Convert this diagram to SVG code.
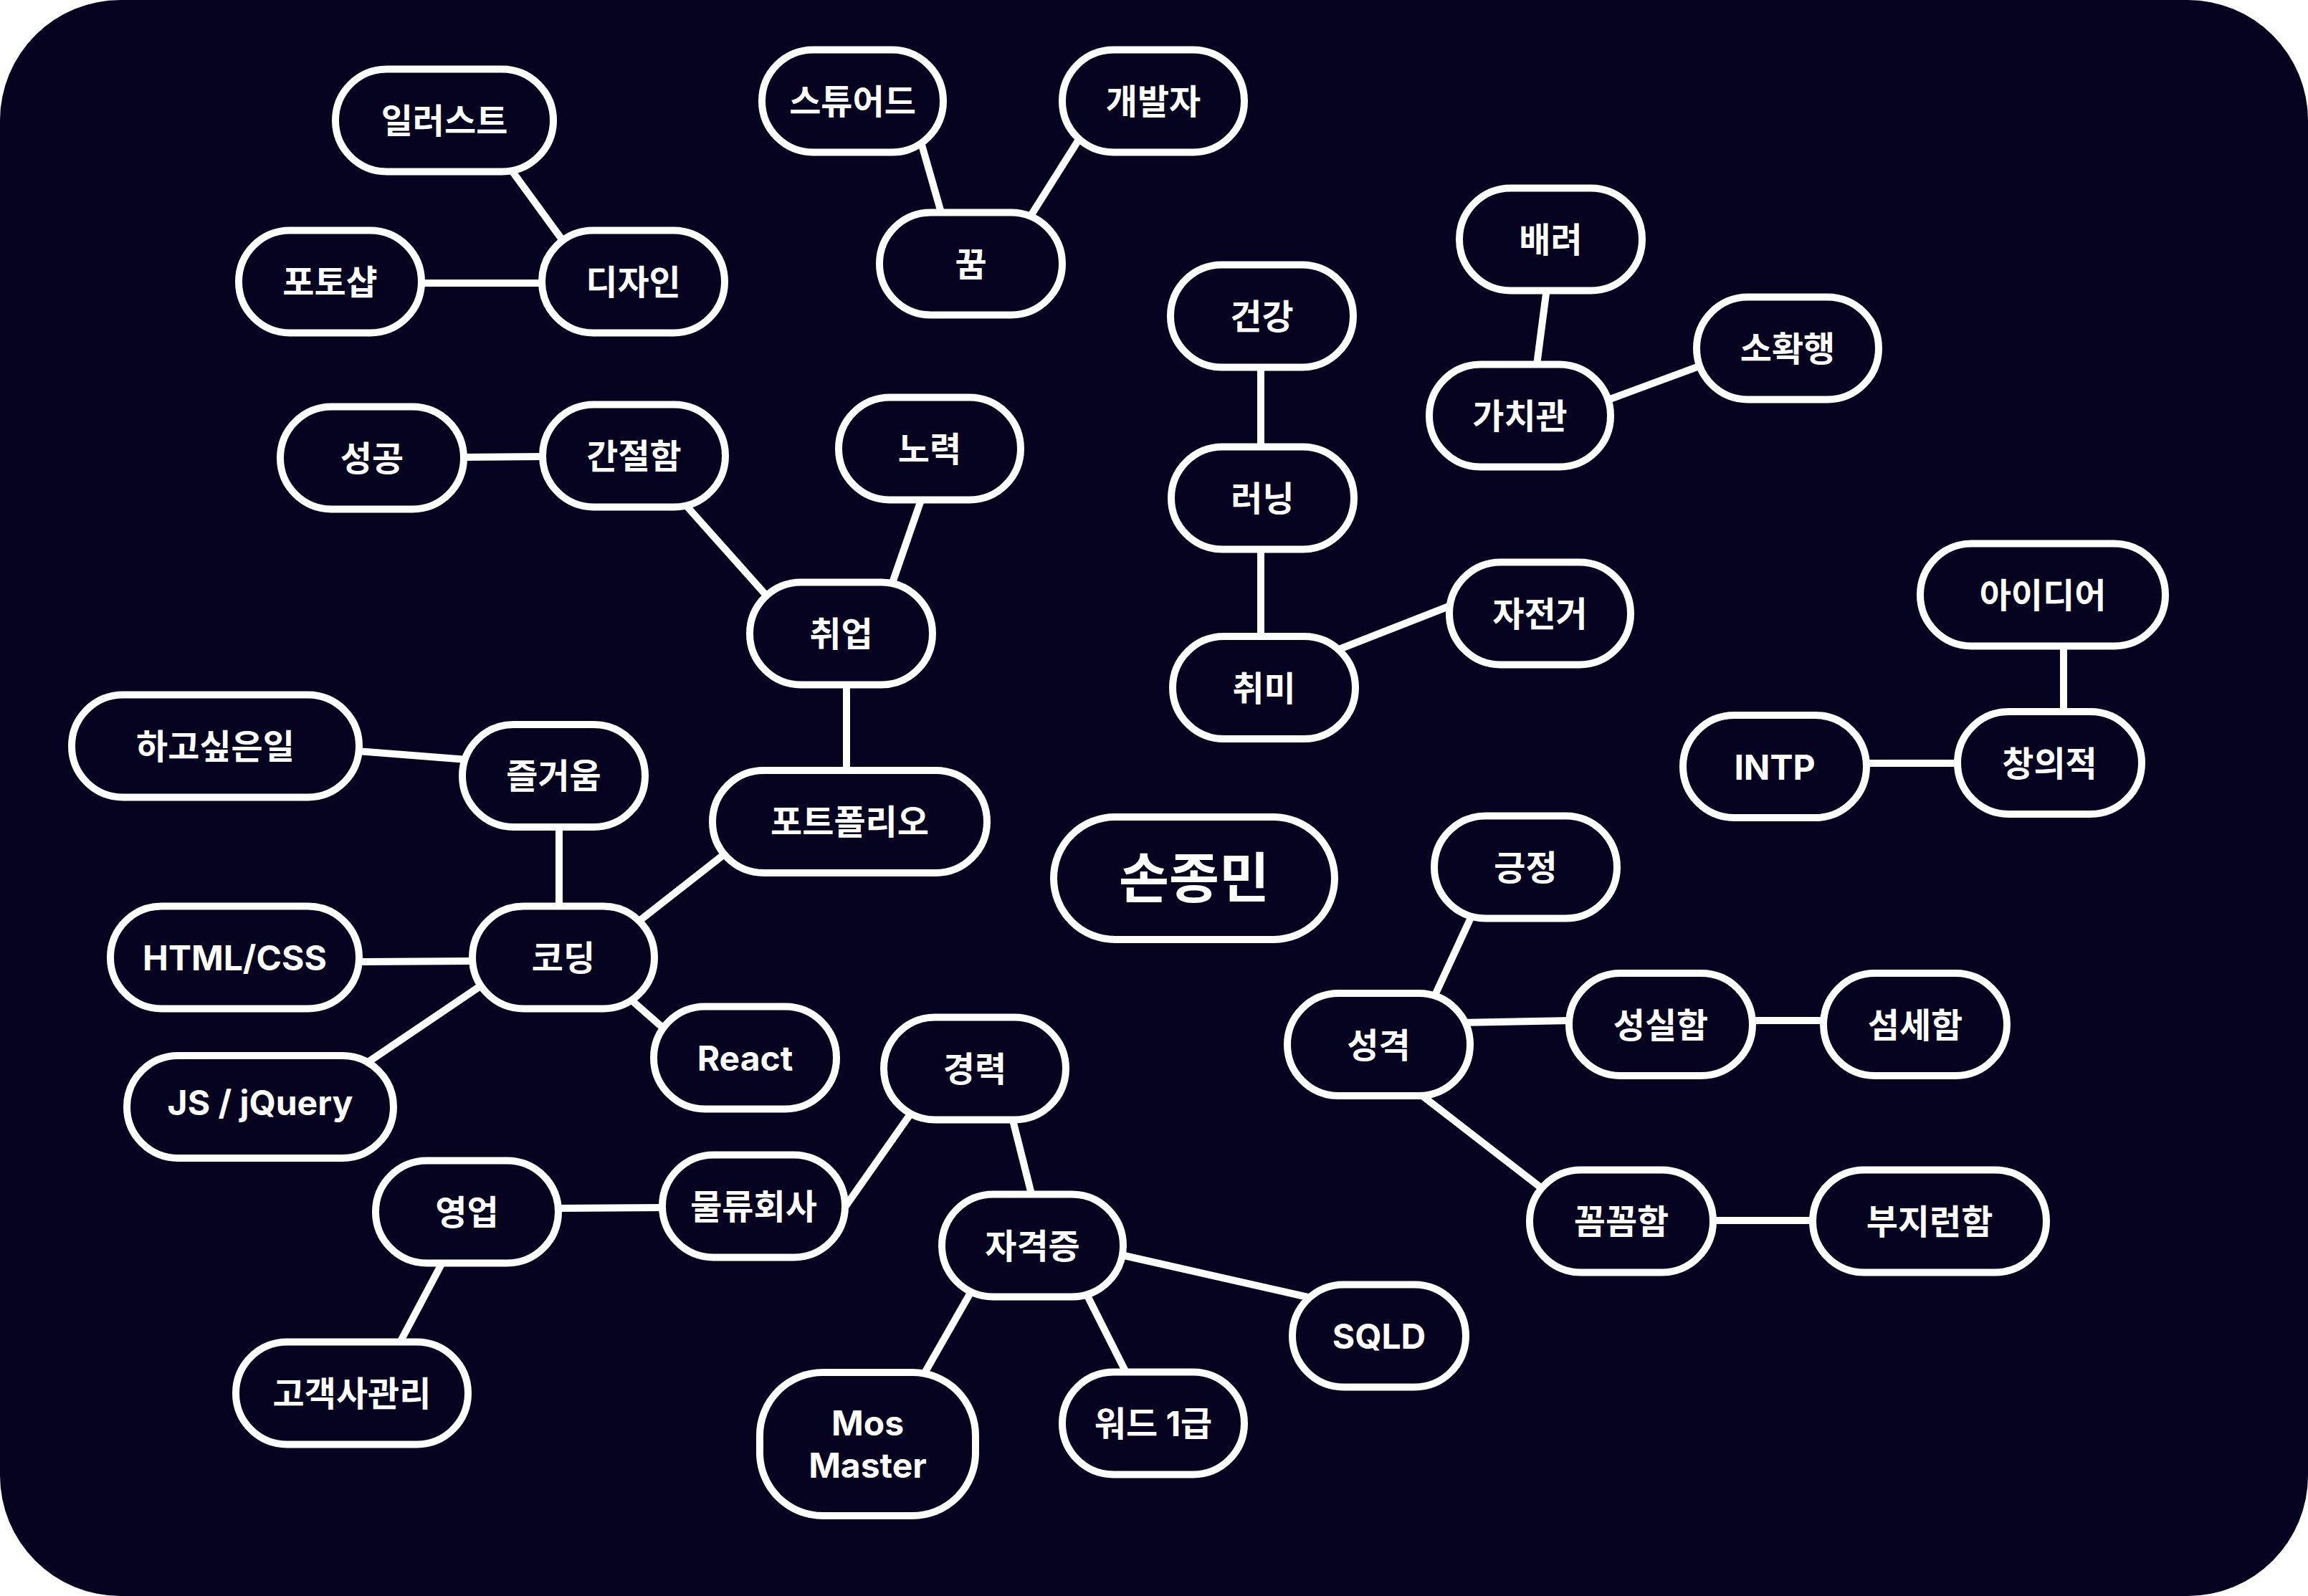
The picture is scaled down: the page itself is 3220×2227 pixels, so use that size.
<svg xmlns="http://www.w3.org/2000/svg" width="3220" height="2227" viewBox="0 0 3220 2227">
<style>
.n{fill:#050320;stroke:#fff;stroke-width:10}
.c line{stroke:#fff;stroke-width:10;stroke-linecap:butt}
.t{font-family:Inter,"Noto Sans CJK KR",sans-serif;font-size:48px;font-weight:700;fill:#fff;text-anchor:middle}
.big{font-size:76px}
</style>
<rect x="0" y="0" width="3220" height="2227" fill="#ffffff"/>
<rect x="0" y="0" width="3220" height="2227" rx="168" ry="168" fill="#050320"/>
<g id="connectors" class="c">
<line x1="711" y1="234" x2="789" y2="341"/>
<line x1="585" y1="395" x2="759" y2="395"/>
<line x1="644" y1="638" x2="760" y2="637"/>
<line x1="956" y1="704" x2="1071" y2="833"/>
<line x1="1287" y1="692" x2="1243" y2="819"/>
<line x1="1284" y1="195" x2="1314" y2="300"/>
<line x1="1508" y1="190" x2="1435" y2="306"/>
<line x1="1759" y1="510" x2="1759" y2="628"/>
<line x1="1759" y1="763" x2="1759" y2="891"/>
<line x1="1863" y1="908" x2="2024" y2="845"/>
<line x1="2158" y1="402" x2="2143" y2="517"/>
<line x1="2238" y1="560" x2="2376" y2="509"/>
<line x1="498" y1="1048" x2="652" y2="1060"/>
<line x1="780" y1="1151" x2="780" y2="1268"/>
<line x1="498" y1="1342" x2="660" y2="1341"/>
<line x1="888" y1="1288" x2="1013" y2="1190"/>
<line x1="878" y1="1393" x2="928" y2="1437"/>
<line x1="673" y1="1374" x2="512" y2="1483"/>
<line x1="1181" y1="952" x2="1181" y2="1078"/>
<line x1="2055" y1="1274" x2="2000" y2="1393"/>
<line x1="2037" y1="1427" x2="2192" y2="1424"/>
<line x1="2442" y1="1424" x2="2547" y2="1424"/>
<line x1="1983" y1="1528" x2="2156" y2="1662"/>
<line x1="2387" y1="1703" x2="2532" y2="1703"/>
<line x1="2879" y1="898" x2="2879" y2="996"/>
<line x1="2601" y1="1065" x2="2734" y2="1065"/>
<line x1="776" y1="1686" x2="927" y2="1685"/>
<line x1="618" y1="1760" x2="557" y2="1875"/>
<line x1="1274" y1="1549" x2="1177" y2="1687"/>
<line x1="1412" y1="1559" x2="1440" y2="1670"/>
<line x1="1564" y1="1751" x2="1829" y2="1811"/>
<line x1="1355" y1="1802" x2="1287" y2="1921"/>
<line x1="1515" y1="1804" x2="1572" y2="1917"/>
</g>
<g id="n-illust"><rect class="n" x="468" y="96.5" width="304" height="143" rx="71.5"/><text class="t" x="620" y="186">일러스트</text></g>
<g id="n-design"><rect class="n" x="756" y="321.5" width="255" height="143" rx="71.5"/><text class="t" x="883.5" y="411">디자인</text></g>
<g id="n-photoshop"><rect class="n" x="333" y="321.5" width="255" height="143" rx="71.5"/><text class="t" x="460.5" y="411">포토샵</text></g>
<g id="n-success"><rect class="n" x="391" y="567.5" width="256" height="143" rx="71.5"/><text class="t" x="519" y="657">성공</text></g>
<g id="n-eager"><rect class="n" x="757" y="564.5" width="255" height="143" rx="71.5"/><text class="t" x="884.5" y="654">간절함</text></g>
<g id="n-steward"><rect class="n" x="1063" y="69.5" width="253" height="143" rx="71.5"/><text class="t" x="1189.5" y="159">스튜어드</text></g>
<g id="n-developer"><rect class="n" x="1482" y="69.5" width="254" height="143" rx="71.5"/><text class="t" x="1609" y="159">개발자</text></g>
<g id="n-dream"><rect class="n" x="1227" y="296.5" width="255" height="143" rx="71.5"/><text class="t" x="1354.5" y="386">꿈</text></g>
<g id="n-health"><rect class="n" x="1633" y="369.5" width="255" height="143" rx="71.5"/><text class="t" x="1760.5" y="459">건강</text></g>
<g id="n-effort"><rect class="n" x="1170" y="554.5" width="254" height="143" rx="71.5"/><text class="t" x="1297" y="644">노력</text></g>
<g id="n-running"><rect class="n" x="1634" y="623.5" width="255" height="143" rx="71.5"/><text class="t" x="1761.5" y="713">러닝</text></g>
<g id="n-care"><rect class="n" x="2036" y="262.5" width="255" height="143" rx="71.5"/><text class="t" x="2163.5" y="352">배려</text></g>
<g id="n-values"><rect class="n" x="1994" y="508.5" width="253" height="143" rx="71.5"/><text class="t" x="2120.5" y="598">가치관</text></g>
<g id="n-small-happiness"><rect class="n" x="2367" y="414.5" width="254" height="143" rx="71.5"/><text class="t" x="2494" y="504">소확행</text></g>
<g id="n-want"><rect class="n" x="100" y="969.5" width="401" height="143" rx="71.5"/><text class="t" x="300.5" y="1059">하고싶은일</text></g>
<g id="n-joy"><rect class="n" x="645" y="1011" width="255" height="143" rx="71.5"/><text class="t" x="772.5" y="1100">즐거움</text></g>
<g id="n-coding"><rect class="n" x="659" y="1264.5" width="254" height="143" rx="71.5"/><text class="t" x="786" y="1354">코딩</text></g>
<g id="n-htmlcss"><rect class="n" x="154" y="1264.5" width="347" height="143" rx="71.5"/><text class="t" x="327.5" y="1354">HTML/CSS</text></g>
<g id="n-portfolio"><rect class="n" x="994" y="1075" width="383" height="143" rx="71.5"/><text class="t" x="1185.5" y="1164">포트폴리오</text></g>
<g id="n-job"><rect class="n" x="1046" y="812.5" width="255" height="143" rx="71.5"/><text class="t" x="1173.5" y="902">취업</text></g>
<g id="n-react"><rect class="n" x="912" y="1404.5" width="255" height="143" rx="71.5"/><text class="t" x="1039.5" y="1494">React</text></g>
<g id="n-hobby"><rect class="n" x="1636" y="888" width="255" height="143" rx="71.5"/><text class="t" x="1763.5" y="978">취미</text></g>
<g id="n-center"><rect class="n" x="1470" y="1140" width="392" height="171" rx="85.5"/><text class="t big" x="1666" y="1253">손종민</text></g>
<g id="n-bicycle"><rect class="n" x="2022" y="784.5" width="253" height="143" rx="71.5"/><text class="t" x="2148.5" y="874">자전거</text></g>
<g id="n-positive"><rect class="n" x="2001" y="1138.5" width="255" height="143" rx="71.5"/><text class="t" x="2128.5" y="1228">긍정</text></g>
<g id="n-personality"><rect class="n" x="1796" y="1386" width="255" height="143" rx="71.5"/><text class="t" x="1923.5" y="1476">성격</text></g>
<g id="n-idea"><rect class="n" x="2679" y="758.5" width="342" height="143" rx="71.5"/><text class="t" x="2850" y="848">아이디어</text></g>
<g id="n-intp"><rect class="n" x="2348" y="998" width="256" height="143" rx="71.5"/><text class="t" x="2476" y="1088">INTP</text></g>
<g id="n-creative"><rect class="n" x="2731" y="993" width="257" height="143" rx="71.5"/><text class="t" x="2859.5" y="1083">창의적</text></g>
<g id="n-sincere"><rect class="n" x="2189" y="1358" width="256" height="143" rx="71.5"/><text class="t" x="2317" y="1448">성실함</text></g>
<g id="n-delicate"><rect class="n" x="2544" y="1358" width="256" height="143" rx="71.5"/><text class="t" x="2672" y="1448">섬세함</text></g>
<g id="n-meticulous"><rect class="n" x="2134" y="1632.5" width="256" height="143" rx="71.5"/><text class="t" x="2262" y="1722">꼼꼼함</text></g>
<g id="n-diligent"><rect class="n" x="2529" y="1632.5" width="326" height="143" rx="71.5"/><text class="t" x="2692" y="1722">부지런함</text></g>
<g id="n-js"><rect class="n" x="177" y="1473" width="372" height="143" rx="71.5"/><text class="t" x="363" y="1556">JS / jQuery</text></g>
<g id="n-sales"><rect class="n" x="524" y="1619.5" width="255" height="143" rx="71.5"/><text class="t" x="651.5" y="1709">영업</text></g>
<g id="n-logistics"><rect class="n" x="924" y="1611.5" width="255" height="143" rx="71.5"/><text class="t" x="1051.5" y="1701">물류회사</text></g>
<g id="n-client"><rect class="n" x="329" y="1872.5" width="324" height="143" rx="71.5"/><text class="t" x="491" y="1962">고객사관리</text></g>
<g id="n-career"><rect class="n" x="1233" y="1419.5" width="254" height="143" rx="71.5"/><text class="t" x="1360" y="1509">경력</text></g>
<g id="n-cert"><rect class="n" x="1314" y="1666.5" width="253" height="143" rx="71.5"/><text class="t" x="1440.5" y="1756">자격증</text></g>
<g id="n-sqld"><rect class="n" x="1803" y="1792.5" width="242" height="143" rx="71.5"/><text class="t" x="1924" y="1882">SQLD</text></g>
<g id="n-mos"><rect class="n" x="1060" y="1915" width="301" height="200" rx="88"/><text class="t" x="1210.5" y="2003">Mos</text><text class="t" x="1210.5" y="2062">Master</text></g>
<g id="n-word"><rect class="n" x="1482" y="1914.5" width="254" height="143" rx="71.5"/><text class="t" x="1609" y="2004">워드 1급</text></g>
</svg>
